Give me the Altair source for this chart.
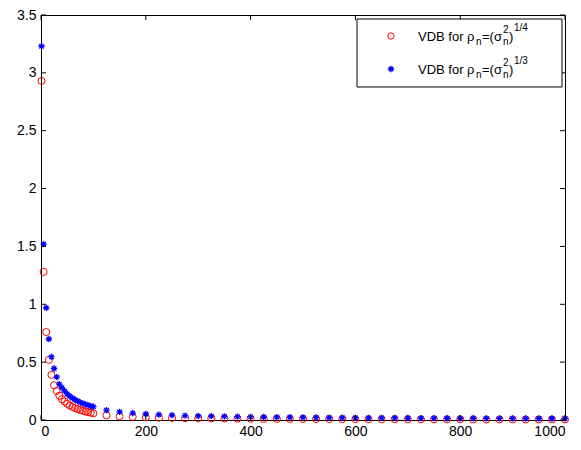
import altair as alt
import pandas as pd

# sample points (n)
n_vals = [1, 5, 10, 15, 20, 25, 30, 35, 40, 45, 50, 55, 60, 65, 70, 75, 80, 85, 90, 95, 100,
          125, 150, 175, 200, 225, 250, 275, 300, 325, 350, 375, 400, 425, 450, 475, 500,
          525, 550, 575, 600, 625, 650, 675, 700, 725, 750, 775, 800, 825, 850, 875, 900,
          925, 950, 975, 1000]

# VDB for rho_n = (sigma_n^2)^(1/4)  (red circles)
vdb_quarter = [2.93, 1.28, 0.76, 0.52, 0.39, 0.30, 0.25, 0.21, 0.18, 0.16, 0.14, 0.125, 0.113,
               0.103, 0.094, 0.086, 0.079, 0.073, 0.068, 0.063, 0.058,
               0.040, 0.032, 0.027, 0.023, 0.020, 0.018, 0.016, 0.015, 0.014, 0.013, 0.012,
               0.011, 0.010, 0.010, 0.009, 0.009, 0.008, 0.008, 0.008, 0.007, 0.007, 0.007,
               0.007, 0.006, 0.006, 0.006, 0.006, 0.006, 0.005, 0.005, 0.005, 0.005, 0.005,
               0.005, 0.005, 0.005]

# VDB for rho_n = (sigma_n^2)^(1/3)  (blue stars)
vdb_third = [3.23, 1.52, 0.97, 0.70, 0.545, 0.445, 0.37, 0.31, 0.28, 0.25, 0.225, 0.205, 0.19,
             0.175, 0.163, 0.152, 0.143, 0.135, 0.128, 0.121, 0.115,
             0.085, 0.070, 0.060, 0.052, 0.046, 0.042, 0.038, 0.035, 0.033, 0.031, 0.029,
             0.027, 0.026, 0.025, 0.024, 0.023, 0.022, 0.021, 0.020, 0.019, 0.019, 0.018,
             0.018, 0.017, 0.016, 0.016, 0.015, 0.015, 0.015, 0.014, 0.014, 0.014, 0.013,
             0.013, 0.013, 0.012]

x_ticks = [0, 200, 400, 600, 800, 1000]
y_ticks = [0, 0.5, 1, 1.5, 2, 2.5, 3, 3.5]

W, H = 524, 405
FONT = "Liberation Sans"

df = pd.DataFrame({"n": n_vals, "q": vdb_quarter, "t": vdb_third})
xt = pd.DataFrame({"v": x_ticks})
yt = pd.DataFrame({"v": y_ticks})
one = pd.DataFrame({"a": [0]})

xs = alt.Scale(domain=[0, 1000], nice=False)
ys = alt.Scale(domain=[0, 3.5], nice=False)

base = alt.Chart(df)

red = base.mark_point(shape="circle", filled=False, color="#ff0000", size=50, strokeWidth=1, opacity=1).encode(
    x=alt.X("n:Q", scale=xs, axis=alt.Axis(values=x_ticks, title=None, grid=False, tickSize=0,
                                            labelFontSize=14, labelFont=FONT, labelColor="black",
                                            labelPadding=4, domainColor="black", format="d")),
    y=alt.Y("q:Q", scale=ys, axis=alt.Axis(values=y_ticks, title=None, grid=False, tickSize=0,
                                            labelFontSize=14, labelFont=FONT, labelColor="black",
                                            labelPadding=5, domainColor="black", format="~g")),
)

STAR = "M-1,0L1,0M0,-1L0,1M-0.7,-0.7L0.7,0.7M-0.7,0.7L0.7,-0.7"
blue = base.mark_point(shape=STAR, filled=False, color="#0000ff", size=40, strokeWidth=1.3, opacity=1).encode(
    x=alt.X("n:Q", scale=xs),
    y=alt.Y("t:Q", scale=ys),
)

# inward ticks (MATLAB style)
tb = alt.Chart(xt).mark_rule(color="black", strokeWidth=1).encode(x=alt.X("v:Q", scale=xs), y=alt.value(H), y2=alt.value(H - 5))
tt = alt.Chart(xt).mark_rule(color="black", strokeWidth=1).encode(x=alt.X("v:Q", scale=xs), y=alt.value(0), y2=alt.value(5))
tl = alt.Chart(yt).mark_rule(color="black", strokeWidth=1).encode(y=alt.Y("v:Q", scale=ys), x=alt.value(0), x2=alt.value(5))
tr = alt.Chart(yt).mark_rule(color="black", strokeWidth=1).encode(y=alt.Y("v:Q", scale=ys), x=alt.value(W), x2=alt.value(W - 5))

# legend box
lbox = alt.Chart(one).mark_rect(fill="white", stroke="black", strokeWidth=1).encode(
    x=alt.value(316), x2=alt.value(521), y=alt.value(4), y2=alt.value(72))
lsym1 = alt.Chart(one).mark_point(shape="circle", filled=False, color="#ff0000", size=40, strokeWidth=1, opacity=1).encode(
    x=alt.value(350), y=alt.value(21))
lsym2 = alt.Chart(one).mark_point(shape=STAR, filled=False, color="#0000ff", size=40, strokeWidth=1.3, opacity=1).encode(
    x=alt.value(350), y=alt.value(54))


def txt(s, x, y, size):
    return alt.Chart(one).mark_text(text=s, align="left", baseline="alphabetic", fontSize=size,
                                    font=FONT, color="black").encode(x=alt.value(x), y=alt.value(y))


def legend_row(y0, power):
    return [
        txt("VDB for \u03c1", 377, y0, 13),
        txt("n", 435, y0 + 4, 10),
        txt("=(\u03c3", 441, y0, 13),
        txt("2", 462, y0 - 8, 10),
        txt("n", 462, y0 + 4, 10),
        txt(")", 468, y0, 13),
        txt(power, 473, y0 - 10, 10),
    ]


layers = [red, blue, tb, tt, tl, tr, lbox, lsym1, lsym2] + legend_row(26, "1/4") + legend_row(59, "1/3")

chart = alt.layer(*layers).properties(
    width=W, height=H,
    autosize=alt.AutoSizeParams(type="none"),
    padding={"left": 33, "top": 7, "right": 8, "bottom": 22},
).configure_view(stroke="black", strokeWidth=1).configure_axis(domainWidth=1)

chart.save("out.html", embed_options={"renderer": "svg", "actions": False})
